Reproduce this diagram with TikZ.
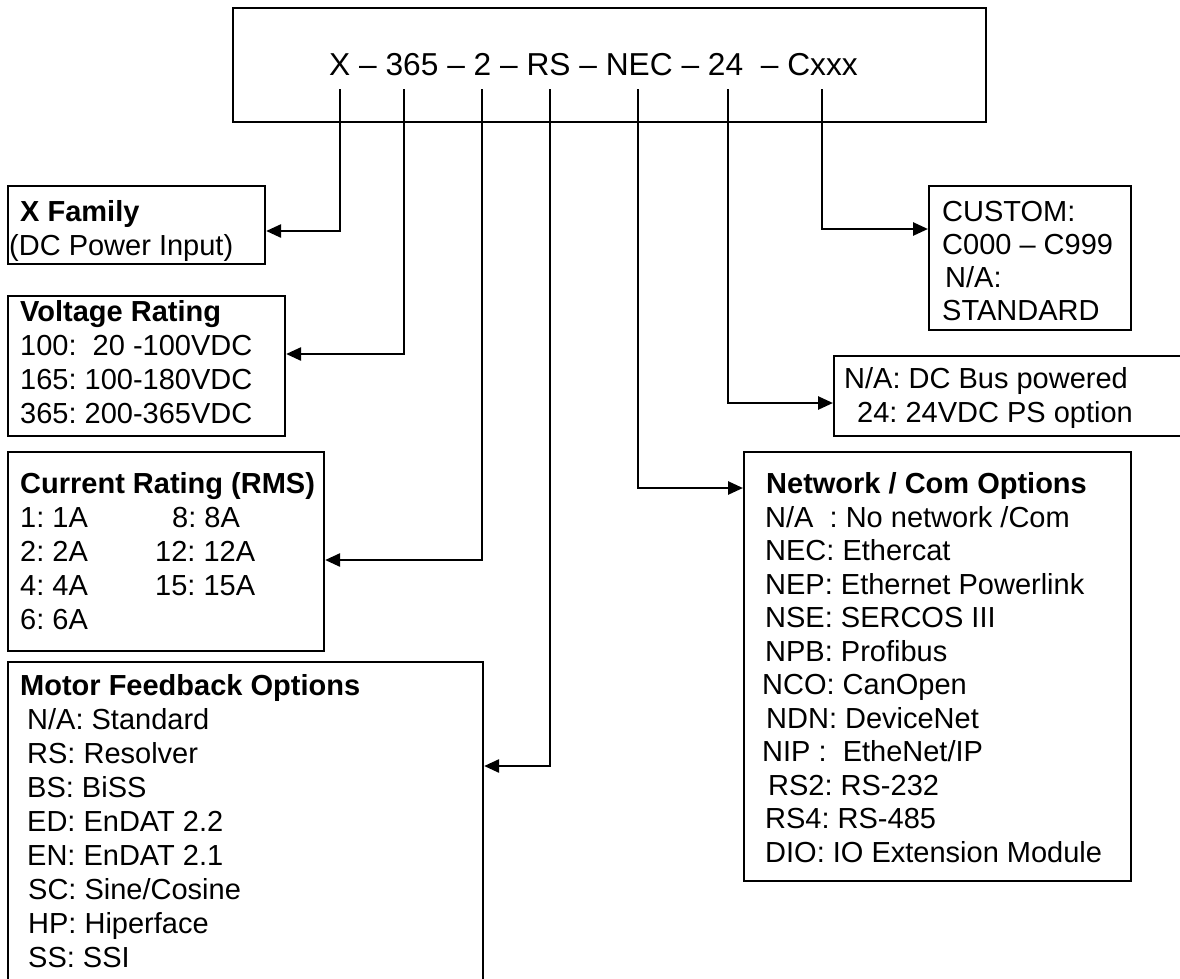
\documentclass[tikz,border=0pt]{standalone}
\usepackage{fontspec}
\setmainfont{Liberation Sans}
\usetikzlibrary{arrows.meta}
\frenchspacing
\begin{document}
\begin{tikzpicture}[x=1pt,y=-1pt,
  box/.style={draw, line width=2.1pt, inner sep=0pt, anchor=north west},
  txt/.style={anchor=base west, inner sep=0pt, font=\fontsize{29}{33.5}\selectfont},
  ttl/.style={anchor=base west, inner sep=0pt, font=\fontsize{29}{33.5}\selectfont\bfseries},
  conn/.style={line width=2.6pt, -{Triangle[length=15pt,width=13pt]}}
]
\path[fill=white] (0,0) rectangle (1180,978);
\useasboundingbox (0,0) rectangle (1180,978);

% part number box
\node[box, minimum width=753pt, minimum height=114pt] (code) at (232,7) {};
\node[anchor=base west, inner sep=0pt, font=\fontsize{31.7}{36}\selectfont] (codetxt) at (329,75) {X – 365 – 2 – RS – NEC – 24\ \ – Cxxx};

\coordinate (sX)   at (340,89);
\coordinate (s365) at (404,89);
\coordinate (s2)   at (482,89);
\coordinate (sRS)  at (550,89);
\coordinate (sNEC) at (638,89);
\coordinate (s24)  at (728,89);
\coordinate (sC)   at (822,89);

% X family
\node[box, minimum width=257pt, minimum height=78pt] (fam) at (7,185) {};
\node[ttl] (famT) at (20,221) {X Family};
\node[txt] (fam1) at (9,255) {(DC Power Input)};

% Voltage
\node[box, minimum width=277pt, minimum height=140pt] (volt) at (7,295) {};
\node[ttl] (voltT) at (20,321) {Voltage Rating};
\node[txt] (volt1) at (20,355) {100:\ \ 20 -100VDC};
\node[txt] (volt2) at (20,389) {165: 100-180VDC};
\node[txt] (volt3) at (20,423) {365: 200-365VDC};

% Current
\node[box, minimum width=316pt, minimum height=199pt] (cur) at (7,451) {};
\node[ttl] (curT) at (20,493) {Current Rating (RMS)};
\node[txt] (cur1) at (20,527) {1: 1A};
\node[txt] (cur8) at (172,527) {8: 8A};
\node[txt] (cur2) at (20,561) {2: 2A};
\node[txt] (cur12) at (155,561) {12: 12A};
\node[txt] (cur4) at (20,595) {4: 4A};
\node[txt] (cur15) at (155,595) {15: 15A};
\node[txt] (cur6) at (20,629) {6: 6A};

% Motor feedback
\node[box, minimum width=475pt, minimum height=340pt] (mot) at (7,661) {};
\node[ttl] (motT) at (20,695) {Motor Feedback Options};
\node[txt] (mot1) at (27,729) {N/A: Standard};
\node[txt] (mot2) at (27,763) {RS: Resolver};
\node[txt] (mot3) at (27,797) {BS: BiSS};
\node[txt] (mot4) at (27,831) {ED: EnDAT 2.2};
\node[txt] (mot5) at (27,865) {EN: EnDAT 2.1};
\node[txt] (mot6) at (28,899) {SC: Sine/Cosine};
\node[txt] (mot7) at (28,933) {HP: Hiperface};
\node[txt] (mot8) at (28,967) {SS: SSI};

% Custom
\node[box, minimum width=202pt, minimum height=144pt] (cust) at (928,185) {};
\node[txt] (cust1) at (942,221) {CUSTOM:};
\node[txt] (cust2) at (942,254) {C000 – C999};
\node[txt] (cust3) at (945,287) {N/A:};
\node[txt] (cust4) at (942,320) {STANDARD};

% Power
\node[box, minimum width=360pt, minimum height=80pt] (pwr) at (833,355) {};
\node[txt] (pwr1) at (844,388) {N/A: DC Bus powered};
\node[txt] (pwr2) at (857,422) {24: 24VDC PS option};

% Network
\node[box, minimum width=387pt, minimum height=429pt] (net) at (743,451) {};
\node[ttl] (netT) at (766,493) {Network / Com Options};
\node[txt] (net1) at (765,527) {N/A\ \ : No network /Com};
\node[txt] (net2) at (765,560.5) {NEC: Ethercat};
\node[txt] (net3) at (765,594) {NEP: Ethernet Powerlink};
\node[txt] (net4) at (765,627.5) {NSE: SERCOS III};
\node[txt] (net5) at (765,661) {NPB: Profibus};
\node[txt] (net6) at (762,694.5) {NCO: CanOpen};
\node[txt] (net7) at (766,728) {NDN: DeviceNet};
\node[txt] (net8) at (762,761.5) {NIP :\ \ EtheNet/IP};
\node[txt] (net9) at (768,795) {RS2: RS-232};
\node[txt] (net10) at (765,828.5) {RS4: RS-485};
\node[txt] (net11) at (765,862) {DIO: IO Extension Module};

% connectors
\draw[conn] (sX)   |- (fam.east |- 0,231);
\draw[conn] (s365) |- (volt.east |- 0,354);
\draw[conn] (s2)   |- (cur.east |- 0,560);
\draw[conn] (sRS)  |- (mot.east |- 0,766);
\draw[conn] (sNEC) |- (net.west |- 0,488);
\draw[conn] (s24)  |- (pwr.west |- 0,403);
\draw[conn] (sC)   |- (cust.west |- 0,229);
\end{tikzpicture}
\end{document}
